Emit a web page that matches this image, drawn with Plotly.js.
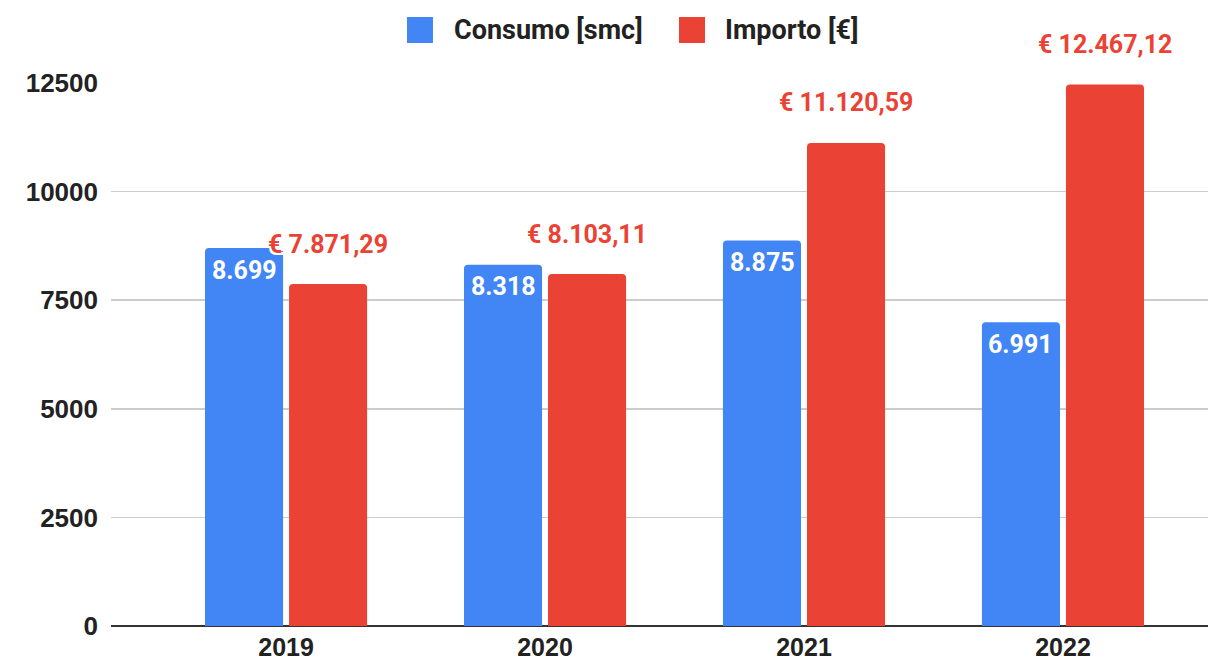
<!DOCTYPE html>
<html>
<head>
<meta charset="utf-8">
<script src="https://cdn.plot.ly/plotly-3.0.1.min.js"></script>
<style>html,body{margin:0;padding:0;background:#fff;}#chart{width:1208px;height:661px;}</style>
</head>
<body>
<div id="chart"></div>
<script>
const years = ['2019', '2020', '2021', '2022'];
const consumo = [8699, 8318, 8875, 6991];
const importo = [7871.29, 8103.11, 11120.59, 12467.12];
const seriesNames = ['Consumo [smc]', 'Importo [€]'];
const yTicks = [0, 2500, 5000, 7500, 10000, 12500];

const BLUE = '#4285F4';
const RED = '#EA4335';

function groupThousands(s) {
  return s.replace(/\B(?=(\d{3})+(?!\d))/g, '.');
}
function fmtInt(v) { return groupThousands(Math.round(v).toString()); }
function fmtEuro(v) {
  const parts = v.toFixed(2).split('.');
  return '€ ' + groupThousands(parts[0]) + ',' + parts[1];
}

const labelFont = {family: 'Roboto, sans-serif', size: 25, weight: 700};
const tickFont = {family: '"Liberation Sans", Arial, sans-serif', size: 26, weight: 700, color: '#222'};
const xTickFont = {family: '"Liberation Sans", Arial, sans-serif', size: 25, weight: 700, color: '#222'};

const traces = [
  {type: 'bar', name: seriesNames[0], x: years, y: consumo, marker: {color: BLUE, cornerradius: 4}, hoverinfo: 'skip'},
  {type: 'bar', name: seriesNames[1], x: years, y: importo, marker: {color: RED, cornerradius: 4}, hoverinfo: 'skip'}
];

const annotations = [];
years.forEach((yr, i) => {
  annotations.push({
    x: i, y: consumo[i], xref: 'x', yref: 'y', xshift: -42, yshift: -22,
    text: fmtInt(consumo[i]), showarrow: false, xanchor: 'center', yanchor: 'middle',
    font: Object.assign({}, labelFont, {color: '#fff'})
  });
  annotations.push({
    x: i, y: importo[i], xref: 'x', yref: 'y', xshift: 42, yshift: 40,
    text: fmtEuro(importo[i]), showarrow: false, xanchor: 'center', yanchor: 'middle',
    font: Object.assign({}, labelFont, {color: RED, shadow: '-2px -2px 0 #fff, 2px -2px 0 #fff, -2px 2px 0 #fff, 2px 2px 0 #fff'})
  });
});
// legend text
annotations.push({xref: 'paper', yref: 'paper', x: 0.3108, y: 1.0976, xanchor: 'left', yanchor: 'middle',
  text: seriesNames[0], showarrow: false, font: Object.assign({}, labelFont, {color: '#222', size: 27})});
annotations.push({xref: 'paper', yref: 'paper', x: 0.5579, y: 1.0976, xanchor: 'left', yanchor: 'middle',
  text: seriesNames[1], showarrow: false, font: Object.assign({}, labelFont, {color: '#222', size: 27})});

const shapes = [
  {type: 'rect', xref: 'paper', yref: 'paper', x0: 0.2698, x1: 0.2935, y0: 1.0737, y1: 1.1215, fillcolor: BLUE, line: {width: 0}},
  {type: 'rect', xref: 'paper', yref: 'paper', x0: 0.5178, x1: 0.5415, y0: 1.0737, y1: 1.1215, fillcolor: RED, line: {width: 0}}
];

const layout = {
  width: 1208, height: 661,
  margin: {l: 111, r: 0, t: 83, b: 35, pad: 0},
  paper_bgcolor: '#fff', plot_bgcolor: '#fff',
  showlegend: false,
  barmode: 'group', bargap: 0.351, bargroupgap: 0.071,
  xaxis: {type: 'category', range: [-0.676, 3.56], showgrid: false, showline: false, zeroline: false,
    ticks: '', tickfont: xTickFont, ticklabelstandoff: 4, fixedrange: true},
  yaxis: {range: [0, 12500], tickvals: yTicks, ticktext: yTicks.map(String), showgrid: true, gridcolor: '#cccccc', gridwidth: 1.5,
    zeroline: true, zerolinecolor: '#333333', zerolinewidth: 2, showline: false, ticks: '',
    tickfont: tickFont, ticklabelstandoff: 12, fixedrange: true},
  annotations: annotations,
  shapes: shapes
};

Plotly.newPlot('chart', traces, layout, {displayModeBar: false, staticPlot: true});
</script>
</body>
</html>
